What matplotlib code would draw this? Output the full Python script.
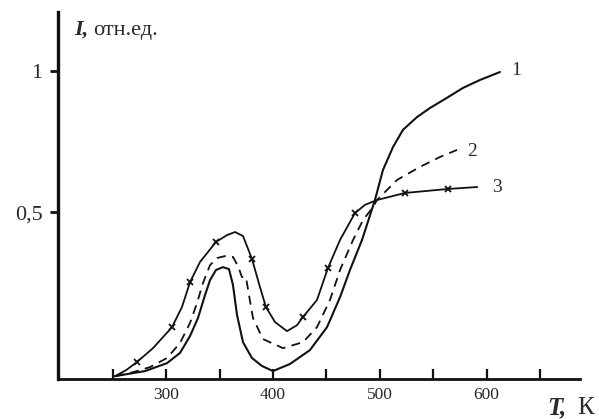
import matplotlib
matplotlib.use("Agg")
import matplotlib.pyplot as plt
import numpy as np

# ---- data ----
t1 = [251.9, 280.0, 300.6, 312.8, 322.2, 329.6, 336.2, 340.9, 346.5, 353.0, 358.7,
      362.4, 366.2, 371.8, 380.2, 389.6, 399.9, 415.8, 434.5, 450.5, 462.7, 472.0,
      483.3, 495.4, 502.9, 512.3, 521.7, 534.8, 547.0, 562.9, 577.9, 593.8, 612.5]
i1 = [-0.078, -0.060, -0.032, 0.004, 0.064, 0.127, 0.208, 0.261, 0.297, 0.307, 0.300,
      0.244, 0.138, 0.042, -0.014, -0.042, -0.060, -0.035, 0.014, 0.095, 0.201, 0.297,
      0.403, 0.544, 0.650, 0.731, 0.792, 0.837, 0.869, 0.905, 0.940, 0.968, 0.996]

t2 = [251.9, 268.7, 284.7, 300.6, 312.8, 322.2, 328.7, 334.3, 340.9, 347.4, 354.9,
      362.4, 367.1, 370.8, 374.6, 377.4, 381.2, 390.5, 409.3, 428.0, 441.1, 453.3,
      462.7, 474.9, 484.2, 493.6, 497.3, 516.1, 537.6, 556.3, 572.3]
i2 = [-0.078, -0.064, -0.046, -0.014, 0.039, 0.110, 0.180, 0.251, 0.314, 0.339, 0.346,
      0.343, 0.311, 0.272, 0.272, 0.208, 0.127, 0.053, 0.021, 0.042, 0.095, 0.191,
      0.297, 0.403, 0.473, 0.519, 0.544, 0.615, 0.661, 0.696, 0.721]

t3 = [251.9, 262.2, 272.5, 287.5, 305.3, 314.6, 322.2, 331.5, 346.5, 356.8, 364.3,
      371.8, 380.2, 387.7, 393.3, 401.8, 413.0, 422.4, 428.0, 441.1, 451.4, 462.7,
      476.7, 486.1, 497.3, 523.5, 563.8, 591.0]
i3 = [-0.078, -0.057, -0.028, 0.021, 0.095, 0.166, 0.254, 0.325, 0.396, 0.420, 0.431,
      0.417, 0.336, 0.237, 0.166, 0.113, 0.081, 0.102, 0.131, 0.191, 0.304, 0.403,
      0.498, 0.527, 0.544, 0.569, 0.583, 0.590]
marks3 = [2, 4, 6, 8, 12, 14, 18, 20, 22, 25, 26]

xticks = [250, 300, 350, 400, 450, 500, 550, 600, 650]
xticklabels = ["", "300", "", "400", "", "500", "", "600", ""]
yticks = [0.5, 1.0]
yticklabels = ["0,5", "1"]

curve_labels = ["1", "2", "3"]
label_pos = [(627.5, 1.003), (586.3, 0.714), (609.7, 0.587)]

# ---- figure ----
W, H = 599, 419
fig = plt.figure(figsize=(W / 100, H / 100), dpi=100)
ax = fig.add_axes([58 / W, (H - 379) / H, (580 - 58) / W, (379 - 12) / H])

ink = "#111111"
txt = "#2a2a2a"
serif = ["Liberation Serif", "DejaVu Serif"]

ax.plot(t1, i1, color=ink, lw=1.5, solid_capstyle="round", solid_joinstyle="round")
l2, = ax.plot(t2, i2, color=ink, lw=1.3, dash_joinstyle="round")
l2.set_dashes([5, 3.5])
ax.plot(t3, i3, color=ink, lw=1.3, marker="x", markevery=marks3,
        markersize=4, markeredgewidth=1.3, solid_joinstyle="round")

for lab, (x, y) in zip(curve_labels, label_pos):
    ax.text(x, y, lab, fontsize=14, family=serif, color=txt,
            ha="center", va="center")

ax.set_xlim(198.5, 687.5)
ax.set_ylim(-0.088, 1.208)

for s in ["top", "right"]:
    ax.spines[s].set_visible(False)
ax.spines["left"].set_linewidth(2.4)
ax.spines["bottom"].set_linewidth(2.0)
ax.spines["left"].set_color(ink)
ax.spines["bottom"].set_color(ink)

ax.set_xticks(xticks)
ax.set_xticklabels(xticklabels, family=serif, fontsize=12.5, color=txt)
ax.tick_params(axis="x", direction="in", length=7, width=1.6, pad=6, colors=ink,
               labelcolor=txt)
ax.set_yticks(yticks)
ax.set_yticklabels(yticklabels, family=serif, fontsize=16, color=txt)
ax.tick_params(axis="y", direction="out", length=6, width=2.0, pad=5, colors=ink,
               labelcolor=txt)

# axis titles
fig.text(74 / W, 1 - 35 / H, "I,", family=serif, fontsize=16, fontweight="bold",
         style="italic", color=txt, va="baseline", ha="left")
fig.text(93 / W, 1 - 35 / H, "отн.ед.", family=serif, fontsize=16, color=txt,
         va="baseline", ha="left")
fig.text(547 / W, 1 - 414 / H, "T,", family=serif, fontsize=18, fontweight="bold",
         style="italic", color=txt, va="baseline", ha="left")
fig.text(577 / W, 1 - 414 / H, "К", family=serif, fontsize=18, color=txt,
         va="baseline", ha="left")

fig.savefig("out.png", dpi=100)
